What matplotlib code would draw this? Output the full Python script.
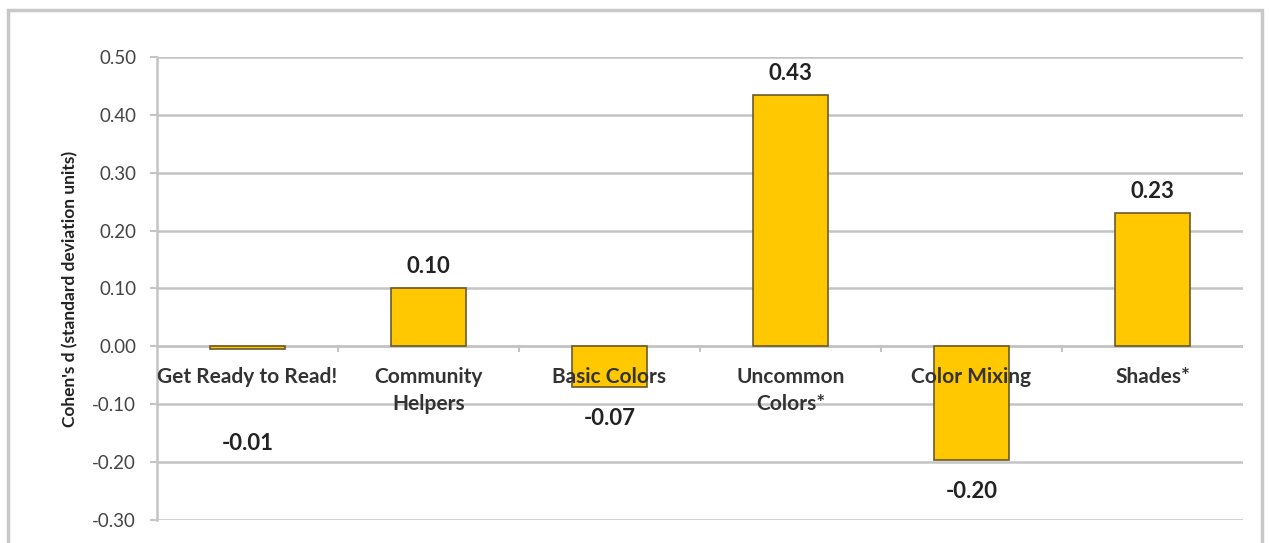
import numpy as np
import matplotlib.pyplot as plt
from matplotlib.patches import Rectangle

categories = ['Get Ready to Read!', 'Community\nHelpers', 'Basic Colors',
              'Uncommon\nColors*', 'Color Mixing', 'Shades*']
values = [-0.005, 0.10, -0.07, 0.434, -0.197, 0.23]
value_labels = ['-0.01', '0.10', '-0.07', '0.43', '-0.20', '0.23']
yticks = [-0.30, -0.20, -0.10, 0.00, 0.10, 0.20, 0.30, 0.40, 0.50]

plt.rcParams['font.family'] = ['Lato', 'DejaVu Sans']

fig = plt.figure(figsize=(12.69, 5.43), dpi=100)
ax = fig.add_axes([0.1237, 0.0424, 0.8558, 0.8526])

# outer chart border
fig.patches.append(Rectangle((0.0063, -0.05), 0.988, 1.032, transform=fig.transFigure,
                             fill=False, edgecolor='#c8c8c8', lw=2.5))

x = np.arange(len(categories))
ax.bar(x, values, width=0.41, color='#ffc800', edgecolor='#6b5a2a', lw=1.2, zorder=3)

ax.set_xlim(-0.5, len(categories) - 0.5)
ax.set_ylim(-0.30, 0.50)
ax.set_yticks(yticks)
ax.set_yticklabels(['%.2f' % t for t in yticks], fontsize=13.5, color='#444444')
ax.yaxis.grid(True, color='#c4c4c4', lw=1.8, zorder=0)
ax.set_axisbelow(True)
ax.tick_params(axis='y', length=5, width=1.5, color='#c4c4c4', pad=10)
ax.set_xticks([])
for s in ['top', 'right', 'bottom']:
    ax.spines[s].set_visible(False)
ax.spines['left'].set_color('#c4c4c4')
ax.spines['left'].set_linewidth(1.8)

# zero axis with category boundary ticks
ax.axhline(0, color='#c4c4c4', lw=1.8, zorder=2)
for b in np.arange(0.5, len(categories) - 0.5):
    ax.plot([b, b], [0, -0.008], color='#c4c4c4', lw=1.5, zorder=2, clip_on=False)

# category labels sitting under the zero line
for xi, c in zip(x, categories):
    ax.annotate(c, (xi, 0), xytext=(0, -15), textcoords='offset points',
                ha='center', va='top', fontsize=15, fontweight='bold',
                color='#333333', linespacing=1.45, zorder=5)

# value labels
for xi, v, lab in zip(x, values, value_labels):
    if v >= 0:
        off, va = 8, 'bottom'
    else:
        off, va = -15, 'top'
    if abs(v) < 0.02:
        off = -60
    ax.annotate(lab, (xi, v), xytext=(0, off), textcoords='offset points',
                ha='center', va=va, fontsize=16, fontweight='bold', color='#222222', zorder=5)

ax.set_ylabel("Cohen's d (standard deviation units)", fontsize=12.5, fontweight='bold',
              color='#222222', labelpad=10)

fig.savefig('out.png', dpi=100)
